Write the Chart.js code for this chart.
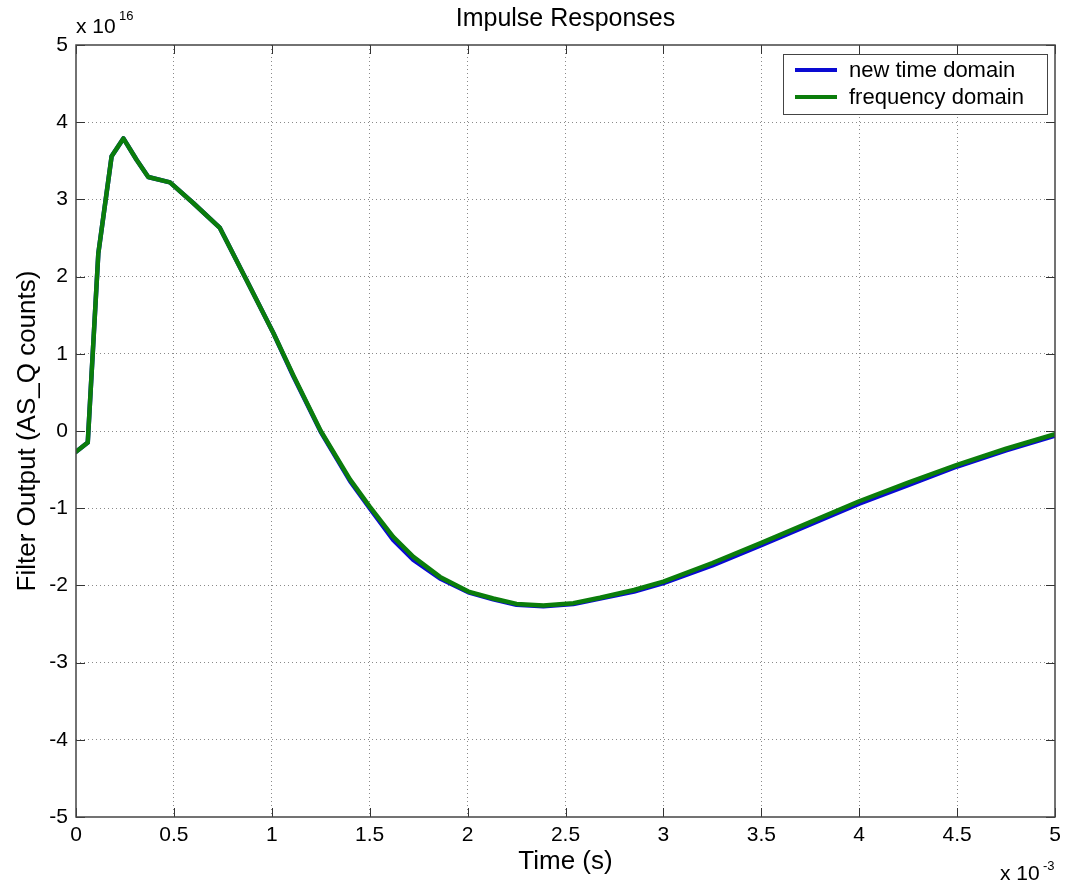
<!DOCTYPE html>
<html>
<head>
<meta charset="utf-8">
<title>Impulse Responses</title>
<script src="https://cdn.jsdelivr.net/npm/chart.js@4.4.0/dist/chart.umd.min.js"></script>
<style>
  html, body { margin: 0; padding: 0; background: #fff; }
  canvas { display: block; }
</style>
</head>
<body>
<canvas id="chart" width="1072" height="885"></canvas>
<script>
// Impulse response: time in ms (x 10^-3 s), output in units of 10^16 counts.
const timeMs = [
  0, 0.06, 0.114, 0.182, 0.242, 0.31, 0.369, 0.48, 0.6, 0.735, 0.87, 1.008,
  1.11, 1.25, 1.4, 1.5, 1.62, 1.723, 1.859, 2.004, 2.131, 2.25, 2.387, 2.54,
  2.676, 2.85, 3.0, 3.25, 3.5, 3.75, 4.0, 4.25, 4.5, 4.75, 5.0,
];
const freqDomain = [
  -0.27, -0.15, 2.3, 3.56, 3.79, 3.51, 3.29, 3.22, 2.95, 2.63, 1.96, 1.27,
  0.72, 0.0, -0.63, -0.98, -1.37, -1.63, -1.89, -2.08, -2.17, -2.24, -2.26, -2.23,
  -2.16, -2.06, -1.95, -1.71, -1.45, -1.18, -0.91, -0.67, -0.44, -0.23, -0.04,
];
const newTimeDomain = [
  -0.27, -0.15, 2.3, 3.56, 3.79, 3.51, 3.29, 3.22, 2.95, 2.63, 1.96, 1.27,
  0.71, -0.01, -0.65, -1.0, -1.41, -1.67, -1.91, -2.09, -2.18, -2.25, -2.27, -2.24,
  -2.17, -2.08, -1.97, -1.74, -1.48, -1.21, -0.94, -0.7, -0.46, -0.25, -0.06,
];
const seriesNames = ["new time domain", "frequency domain"];
const seriesColors = ["#0a0ad2", "#0b7d0b"];
const xTickStep = 0.5;
const yTickStep = 1;

const FONT = '"Liberation Sans", Arial, sans-serif';
const toPts = (ys) => ys.map((y, i) => ({ x: timeMs[i], y }));

// title, axis names, exponent marks, legend and inward ticks
const decor = {
  id: "decor",
  afterDraw(chart) {
    const { ctx, chartArea: a, scales } = chart;
    ctx.save();
    ctx.strokeStyle = "#333";
    ctx.lineWidth = 1;
    ctx.beginPath();
    for (const t of scales.x.ticks) {
      const px = Math.round(scales.x.getPixelForValue(t.value)) + 0.5;
      ctx.moveTo(px, a.bottom); ctx.lineTo(px, a.bottom - 9);
      ctx.moveTo(px, a.top); ctx.lineTo(px, a.top + 9);
    }
    for (const t of scales.y.ticks) {
      const py = Math.round(scales.y.getPixelForValue(t.value)) + 0.5;
      ctx.moveTo(a.left, py); ctx.lineTo(a.left + 9, py);
      ctx.moveTo(a.right, py); ctx.lineTo(a.right - 9, py);
    }
    ctx.stroke();
    ctx.strokeStyle = "#444";
    ctx.lineWidth = 1.5;
    ctx.strokeRect(a.left, a.top, a.right - a.left, a.bottom - a.top);

    ctx.fillStyle = "#000";
    ctx.textAlign = "center";
    ctx.textBaseline = "alphabetic";
    ctx.font = "25px " + FONT;
    ctx.fillText("Impulse Responses", (a.left + a.right) / 2, 26);
    ctx.font = "26px " + FONT;
    ctx.fillText("Time (s)", (a.left + a.right) / 2, 869);
    ctx.save();
    ctx.translate(35, (a.top + a.bottom) / 2);
    ctx.rotate(-Math.PI / 2);
    ctx.fillText("Filter Output (AS_Q counts)", 0, 0);
    ctx.restore();

    // exponents
    ctx.textAlign = "left";
    ctx.font = "21px " + FONT;
    ctx.fillText("x 10", 76, 33);
    ctx.fillText("x 10", 1000, 880);
    ctx.font = "13px " + FONT;
    ctx.fillText("16", 119, 20);
    ctx.fillText("-3", 1043, 870);

    // legend
    const lx = 783, ly = 54, lw = 264, lh = 60;
    ctx.fillStyle = "#fff";
    ctx.fillRect(lx, ly, lw, lh);
    ctx.strokeStyle = "#444";
    ctx.lineWidth = 1;
    ctx.strokeRect(lx + 0.5, ly + 0.5, lw, lh);
    ctx.font = "22px " + FONT;
    ctx.textBaseline = "middle";
    const rows = [70, 97];
    seriesNames.forEach((name, i) => {
      ctx.strokeStyle = seriesColors[i];
      ctx.lineWidth = 4;
      ctx.beginPath();
      ctx.moveTo(795, rows[i]); ctx.lineTo(837, rows[i]);
      ctx.stroke();
      ctx.fillStyle = "#000";
      ctx.fillText(name, 849, rows[i] + 1);
    });
    ctx.restore();
  },
};

const gridColor = (ctx) =>
  ctx.index === 0 || ctx.index === ctx.chart.scales[ctx.scale.id].ticks.length - 1
    ? "rgba(0,0,0,0)" : "#8a8a8a";

new Chart(document.getElementById("chart"), {
  type: "line",
  data: {
    datasets: [
      {
        label: seriesNames[0],
        data: toPts(newTimeDomain),
        borderColor: seriesColors[0],
        order: 2,
      },
      {
        label: seriesNames[1],
        data: toPts(freqDomain),
        borderColor: seriesColors[1],
        order: 1,
      },
    ],
  },
  options: {
    responsive: false,
    animation: false,
    layout: { padding: { top: 45, right: 17, left: 0, bottom: 0 } },
    elements: {
      line: { borderWidth: 4.5, tension: 0, fill: false, borderJoinStyle: "round", borderCapStyle: "round" },
      point: { radius: 0 },
    },
    plugins: { legend: { display: false }, tooltip: { enabled: false } },
    scales: {
      x: {
        type: "linear",
        min: 0,
        max: 5,
        afterFit: (s) => { s.height = 68; },
        ticks: {
          stepSize: xTickStep,
          padding: 6,
          color: "#000",
          font: { family: FONT, size: 21 },
          callback: (v) => String(v),
        },
        grid: { color: gridColor, lineWidth: 1, drawTicks: false },
        border: { display: false, dash: [1, 3] },
      },
      y: {
        min: -5,
        max: 5,
        afterFit: (s) => { s.width = 76; },
        ticks: {
          stepSize: yTickStep,
          padding: 8,
          color: "#000",
          font: { family: FONT, size: 21 },
          callback: (v) => String(v),
        },
        grid: { color: gridColor, lineWidth: 1, drawTicks: false },
        border: { display: false, dash: [1, 3] },
      },
    },
  },
  plugins: [decor],
});
</script>
</body>
</html>
